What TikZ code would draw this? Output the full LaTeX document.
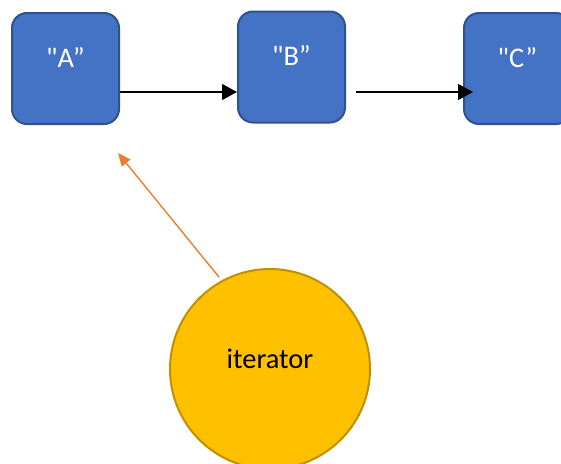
\documentclass[tikz,border=0pt]{standalone}
\usepackage{fontspec}
\setmainfont{Carlito}[Ligatures=TeXOff]
\usetikzlibrary{arrows.meta}

\definecolor{boxfill}{HTML}{4472C4}
\definecolor{boxline}{HTML}{2F528F}
\definecolor{itfill}{HTML}{FFC000}
\definecolor{itline}{HTML}{BF9000}
\definecolor{pointer}{HTML}{ED7D31}

\tikzset{
  listbox/.style={draw=boxline, fill=boxfill, line width=2pt,
    rounded corners=15pt, minimum width=107pt, minimum height=111pt,
    text=white, font=\fontsize{28.4}{34}\selectfont,
    text height=18pt, text depth=21pt, inner sep=0pt},
  iterball/.style={circle, draw=itline, fill=itfill, line width=2pt,
    minimum size=200pt, inner sep=0pt, text=black,
    font=\fontsize{28.4}{34}\selectfont, text height=18pt, text depth=20pt},
  nextlink/.style={line width=1.2pt, -{Triangle[length=15pt,width=16pt]}},
  iterlink/.style={pointer, line width=1.4pt, -{Triangle[length=13pt,width=11pt]}}
}

\begin{document}
\begin{tikzpicture}[x=1pt, y=-1pt]
  \useasboundingbox (0,0) rectangle (561,463);
  \clip (0,0) rectangle (561,463);

  % linked list elements
  \node[listbox] (a) at (65.5,68.5) {"A”};
  \node[listbox] (b) at (291.5,67) {"B”};
  \node[listbox] (c) at (517.5,68.5) {"C”};

  % next pointers
  \coordinate (row) at (0,92);
  \draw[nextlink] (a.east |- row) -- (b.west |- row);
  \draw[nextlink] ([xshift=10pt]b.east |- row) -- ([xshift=10pt]c.west |- row);

  % iterator pointing at the first element
  \node[iterball] (it) at (270,369) {iterator};
  \coordinate (target) at (118,153);
  \draw[iterlink] ([shift={(119.5:4pt)}]it.119.5) -- (target);
\end{tikzpicture}
\end{document}
